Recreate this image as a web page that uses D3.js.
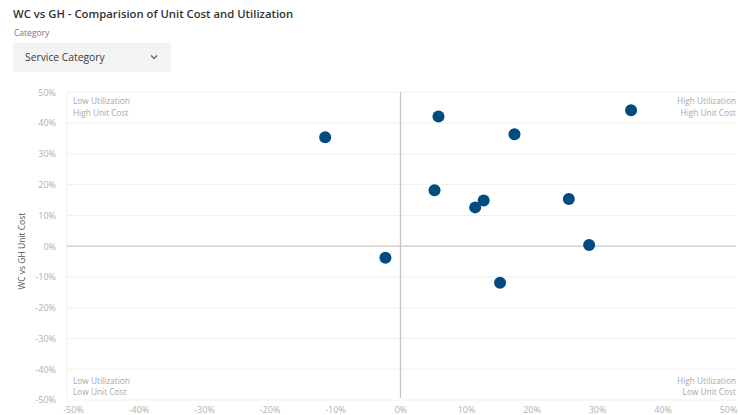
<!DOCTYPE html>
<html>
<head>
<meta charset="utf-8">
<script src="https://cdn.jsdelivr.net/npm/d3@7"></script>
<style>
  html, body { margin: 0; padding: 0; background: #ffffff; }
  svg { display: block; font-family: "Open Sans", "Noto Sans", sans-serif; }
</style>
</head>
<body>
<svg id="chart" width="738" height="415"></svg>
<script>
// Service categories: utilization difference (x) and unit cost difference (y), in percent
const categories = ["Cat A", "Cat B", "Cat C", "Cat D", "Cat E", "Cat F", "Cat G", "Cat H", "Cat I", "Cat J", "Cat K"];
const utilization = [-11.5, 5.8, 17.4, 5.2, 12.7, 11.4, -2.3, 15.2, 35.2, 25.7, 28.8];
const unitCost    = [35.4, 42.1, 36.4, 18.2, 14.8, 12.6, -3.8, -11.9, 44.2, 15.3, 0.4];
const tickValues  = [-50, -40, -30, -20, -10, 0, 10, 20, 30, 40, 50];
const quadrantLabels = [
  { lines: ["Low Utilization", "High Unit Cost"], corner: "tl" },
  { lines: ["High Utilization", "High Unit Cost"], corner: "tr" },
  { lines: ["Low Utilization", "Low Unit Cost"], corner: "bl" },
  { lines: ["High Utilization", "Low Unit Cost"], corner: "br" }
];

const svg = d3.select("#chart");
const points = categories.map((c, i) => ({ name: c, x: utilization[i], y: unitCost[i] }));

// Header: title, slicer label and dropdown
svg.append("text")
  .attr("x", 13).attr("y", 18)
  .attr("font-size", 11.3).attr("font-weight", 600).attr("fill", "#333")
  .text("WC vs GH - Comparision of Unit Cost and Utilization");

svg.append("text")
  .attr("x", 14).attr("y", 36)
  .attr("font-size", 8.5).attr("fill", "#777")
  .text("Category");

svg.append("rect")
  .attr("x", 13).attr("y", 43).attr("width", 158).attr("height", 29)
  .attr("fill", "#f3f3f3");
svg.append("text")
  .attr("x", 25).attr("y", 61)
  .attr("font-size", 10.3).attr("fill", "#3a3a3a")
  .text("Service Category");
svg.append("path")
  .attr("d", "M151,55.5 L154,58.5 L157,55.5")
  .attr("fill", "none").attr("stroke", "#555").attr("stroke-width", 1.1);

// Plot scales
const plotLeft = 67, plotRight = 736;
const x = d3.scaleLinear().domain([-50, 50]).range([73, 728]);
const y = d3.scaleLinear().domain([-50, 50]).range([400, 92.3]);

// Horizontal gridlines
svg.append("g").selectAll("line")
  .data(tickValues.filter(v => v !== 0))
  .join("line")
  .attr("x1", plotLeft).attr("x2", plotRight)
  .attr("y1", d => y(d)).attr("y2", d => y(d))
  .attr("stroke", "#f0f0f0").attr("stroke-width", 1);

// Left plot edge
svg.append("line")
  .attr("x1", plotLeft).attr("x2", plotLeft)
  .attr("y1", y(50)).attr("y2", y(-50))
  .attr("stroke", "#f0f0f0");

// Zero lines
svg.append("line")
  .attr("x1", plotLeft).attr("x2", plotRight)
  .attr("y1", y(0)).attr("y2", y(0))
  .attr("stroke", "#c6c6c6").attr("stroke-width", 1.3);
svg.append("line")
  .attr("x1", x(0)).attr("x2", x(0))
  .attr("y1", y(50)).attr("y2", y(-50) - 2)
  .attr("stroke", "#c6c6c6").attr("stroke-width", 1.3);

const pct = d => d + "%";

// Y axis
const yAxis = svg.append("g")
  .attr("transform", "translate(56,0)")
  .call(d3.axisLeft(y).tickValues(tickValues).tickFormat(pct).tickSize(0).tickPadding(0));
yAxis.select(".domain").remove();
yAxis.selectAll("text")
  .attr("font-family", "Open Sans, sans-serif")
  .attr("font-size", 9).attr("fill", "#b0b0b0");

// X axis
const xAxis = svg.append("g")
  .attr("transform", "translate(0,407)")
  .call(d3.axisBottom(x).tickValues(tickValues).tickFormat(pct).tickSize(0).tickPadding(0));
xAxis.select(".domain").remove();
xAxis.selectAll("text")
  .attr("font-family", "Open Sans, sans-serif")
  .attr("font-size", 9).attr("fill", "#b0b0b0");

// Y axis title
svg.append("text")
  .attr("transform", `translate(25,${y(0) + 5}) rotate(-90)`)
  .attr("text-anchor", "middle")
  .attr("font-size", 8.5).attr("fill", "#555")
  .text("WC vs GH Unit Cost");

// Quadrant labels
quadrantLabels.forEach(q => {
  const right = q.corner[1] === "r";
  const top = q.corner[0] === "t";
  const tx = right ? 736 : 73;
  const ty = top ? y(50) + 12 : y(-50) - 16.5;
  const t = svg.append("text")
    .attr("text-anchor", right ? "end" : "start")
    .attr("font-size", 8.3).attr("fill", "#a8a8a8");
  q.lines.forEach((line, i) => {
    t.append("tspan").attr("x", tx).attr("y", ty + i * 11.4).text(line);
  });
});

// Points
svg.append("g").selectAll("circle")
  .data(points)
  .join("circle")
  .attr("cx", d => x(d.x))
  .attr("cy", d => y(d.y))
  .attr("r", 6)
  .attr("fill", "#004b80");
</script>
</body>
</html>
